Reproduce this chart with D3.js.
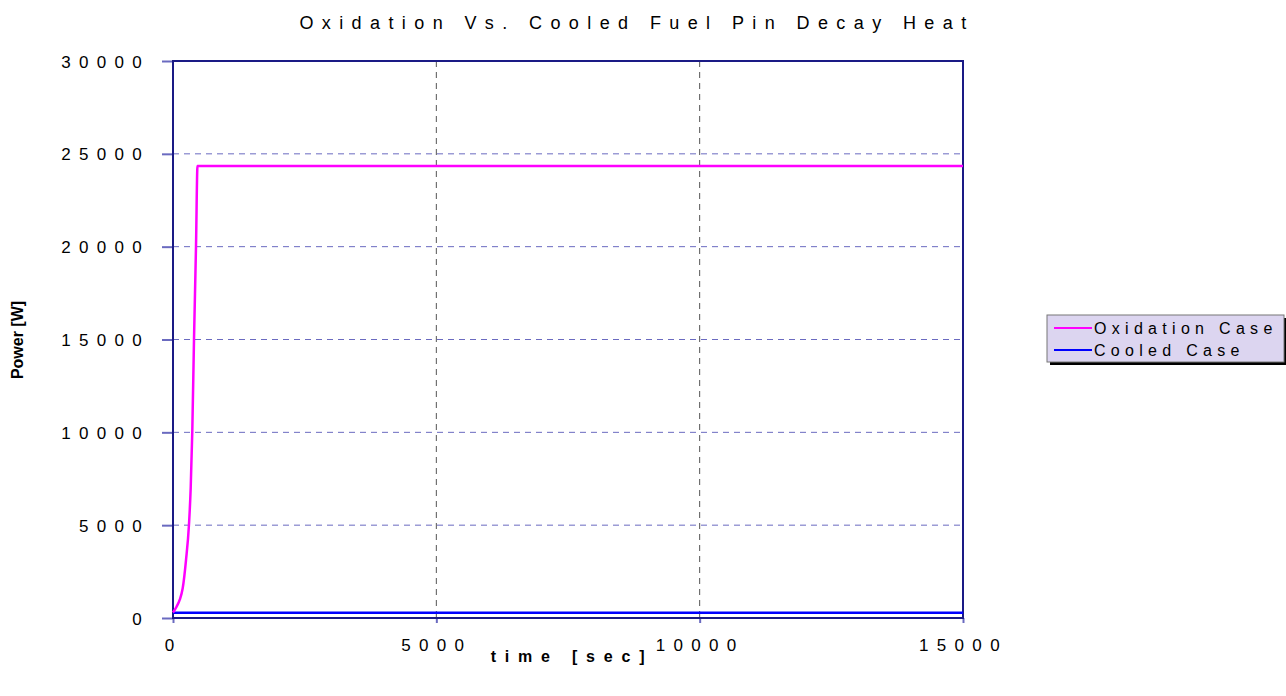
<!DOCTYPE html>
<html>
<head>
<meta charset="utf-8">
<script src="https://cdn.jsdelivr.net/npm/d3@7/dist/d3.min.js"></script>
<style>
  body { margin: 0; background: #fff; }
  svg { font-family: "Liberation Sans", Arial, sans-serif; }
</style>
</head>
<body>
<div id="chart"></div>
<script>
// data
var seriesNames = ['Oxidation Case', 'Cooled Case'];
var seriesColors = ['#ff00ff', '#0000ff'];
var timeOx = [0, 70, 130, 184, 247, 304, 336, 366, 399, 437, 465, 15000];
var powerOx = [300, 620, 1000, 1600, 3120, 5060, 7000, 10020, 15030, 20040, 24350, 24350];
var timeCool = [0, 15000];
var powerCool = [280, 280];
var yTicks = [0, 5000, 10000, 15000, 20000, 25000, 30000];
var xTicks = [0, 5000, 10000, 15000];

var width = 1286, height = 696;
var margin = {left: 173, top: 61, right: 323, bottom: 78};
var w = width - margin.left - margin.right,
    h = height - margin.top - margin.bottom;
var navy = '#1a1a85';

var svg = d3.select('#chart').append('svg').attr('width', width).attr('height', height);
var g = svg.append('g').attr('transform', 'translate(' + margin.left + ',' + margin.top + ')');

var x = d3.scaleLinear().domain([0, 15000]).range([0, w]);
var y = d3.scaleLinear().domain([0, 30000]).range([h, 0]);

// grid
g.selectAll('.hgrid').data(yTicks.slice(1, -1)).enter().append('line')
    .attr('x1', 0).attr('x2', w)
    .attr('y1', function(d) { return y(d); }).attr('y2', function(d) { return y(d); })
    .attr('stroke', '#6a6ac0').attr('stroke-width', 1).attr('stroke-dasharray', '6,5');
g.selectAll('.vgrid').data(xTicks.slice(1, -1)).enter().append('line')
    .attr('x1', function(d) { return x(d); }).attr('x2', function(d) { return x(d); })
    .attr('y1', 0).attr('y2', h)
    .attr('stroke', '#555').attr('stroke-width', 1).attr('stroke-dasharray', '6,5');

// axes
var yAxis = g.append('g').call(d3.axisLeft(y).tickValues(yTicks).tickSize(11).tickFormat(d3.format('d')));
var xAxis = g.append('g').attr('transform', 'translate(0,' + h + ')')
    .call(d3.axisBottom(x).tickValues(xTicks).tickSize(5).tickFormat(d3.format('d')));
[yAxis, xAxis].forEach(function(a) {
    a.select('.domain').remove();
    a.selectAll('line').attr('stroke', '#6a6ac0').attr('stroke-width', 2);
    a.selectAll('text').attr('fill', '#000').style('font-size', '17px')
        .style('letter-spacing', '8.3px').style('font-family', '"Liberation Sans", Arial, sans-serif');
});
yAxis.selectAll('text').attr('x', -23).attr('dy', '0.36em');
xAxis.selectAll('text').attr('y', 21).attr('dx', 0).attr('dy', '0.71em');

// frame
g.append('rect').attr('x', 0).attr('y', 0).attr('width', w).attr('height', h)
    .attr('fill', 'none').attr('stroke', navy).attr('stroke-width', 2);

// lines
var line = d3.line().x(function(d) { return x(d[0]); }).y(function(d) { return y(d[1]); });
var oxData = timeOx.map(function(t, i) { return [t, powerOx[i]]; });
var coolData = timeCool.map(function(t, i) { return [t, powerCool[i]]; });
g.append('path').datum(coolData).attr('d', line.curve(d3.curveLinear))
    .attr('fill', 'none').attr('stroke', seriesColors[1]).attr('stroke-width', 2.5);
g.append('path').datum(oxData).attr('d', line.curve(d3.curveMonotoneX))
    .attr('fill', 'none').attr('stroke', seriesColors[0]).attr('stroke-width', 2.5);

// title and axis labels
svg.append('text').attr('x', 637).attr('y', 29).attr('text-anchor', 'middle')
    .style('font-size', '18px').style('letter-spacing', '8.4px')
    .text('Oxidation Vs. Cooled Fuel Pin Decay Heat');
svg.append('text').attr('x', 572).attr('y', 662).attr('text-anchor', 'middle')
    .style('font-size', '16px').style('font-weight', 'bold').style('letter-spacing', '8.8px')
    .text('time [sec]');
svg.append('text').attr('transform', 'translate(23,340) rotate(-90)').attr('text-anchor', 'middle')
    .style('font-size', '16px').style('font-weight', 'bold')
    .text('Power [W]');

// legend
var lg = svg.append('g').attr('transform', 'translate(1047,315)');
lg.append('rect').attr('x', 3).attr('y', 3).attr('width', 237).attr('height', 47).attr('fill', '#000');
lg.append('rect').attr('x', 0).attr('y', 0).attr('width', 237).attr('height', 47)
    .attr('fill', '#dcd5f0').attr('stroke', '#777').attr('stroke-width', 1);
var item = lg.selectAll('.item').data(seriesNames).enter().append('g')
    .attr('transform', function(d, i) { return 'translate(0,' + (13 + i * 22) + ')'; });
item.append('line').attr('x1', 7).attr('x2', 45).attr('y1', 0).attr('y2', 0)
    .attr('stroke', function(d, i) { return seriesColors[i]; }).attr('stroke-width', 2);
item.append('text').attr('x', 47).attr('y', 0).attr('dy', '0.36em')
    .style('font-size', '16px').style('letter-spacing', '5.3px')
    .text(function(d) { return d; });
</script>
</body>
</html>
